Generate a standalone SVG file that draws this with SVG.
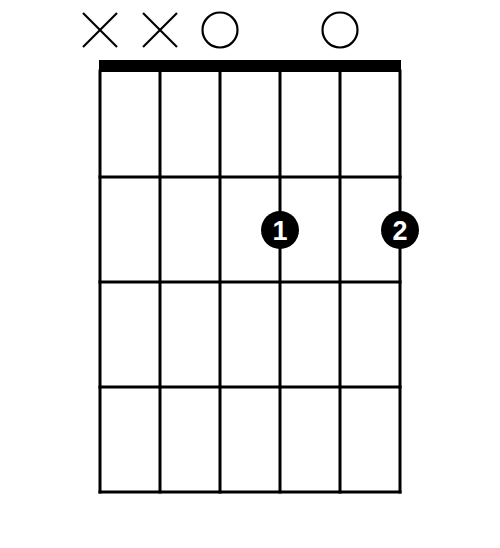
<svg xmlns="http://www.w3.org/2000/svg" width="500" height="548" viewBox="0 0 500 548">
<style>
.grid line{stroke:#000;stroke-width:3;stroke-linecap:square}
.mark{stroke:#000;stroke-width:2.2;fill:none}
.dot{fill:#000}
.num{fill:#fff;font-family:"Liberation Sans",Arial,sans-serif;font-size:27px;font-weight:bold;text-anchor:middle}
</style>
<rect width="500" height="548" fill="#fff"/>
<g id="grid" class="grid">
<line x1="100" y1="71" x2="100" y2="492"/>
<line x1="160" y1="71" x2="160" y2="492"/>
<line x1="220" y1="71" x2="220" y2="492"/>
<line x1="280" y1="71" x2="280" y2="492"/>
<line x1="340" y1="71" x2="340" y2="492"/>
<line x1="400" y1="71" x2="400" y2="492"/>
<line x1="100" y1="177" x2="400" y2="177"/>
<line x1="100" y1="282" x2="400" y2="282"/>
<line x1="100" y1="387" x2="400" y2="387"/>
<line x1="100" y1="492" x2="400" y2="492"/>
</g>
<rect id="nut" x="99" y="60" width="302" height="12" fill="#000"/>
<g id="mute1" class="mark"><line x1="83" y1="13" x2="117" y2="47"/><line x1="117" y1="13" x2="83" y2="47"/></g>
<g id="mute2" class="mark"><line x1="143" y1="13" x2="177" y2="47"/><line x1="177" y1="13" x2="143" y2="47"/></g>
<g id="open3" class="mark"><circle cx="220" cy="30" r="17.5"/></g>
<g id="open5" class="mark"><circle cx="340" cy="30" r="17.5"/></g>
<g id="finger1"><circle class="dot" cx="280" cy="230" r="19"/><text class="num" x="280" y="239.5">1</text></g>
<g id="finger2"><circle class="dot" cx="400" cy="230" r="19"/><text class="num" x="400" y="239.5">2</text></g>
</svg>
